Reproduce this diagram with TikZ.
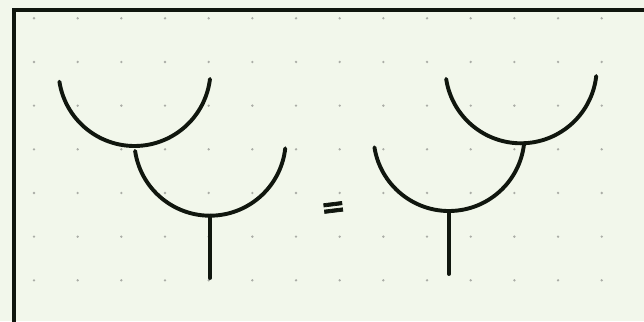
\documentclass[tikz,border=0pt]{standalone}
\usepackage{fontspec}
\newfontfamily\handfont[FakeBold=2.5]{DejaVu Sans}
\usetikzlibrary{calc}
\definecolor{paperbg}{RGB}{242, 247, 235}
\definecolor{gridgray}{RGB}{170, 173, 166}
\definecolor{inkdark}{RGB}{16, 22, 14}
\tikzset{
  cup/.style={
    draw=inkdark,
    line width=3.9pt,
    line cap=round
  },
  frame line/.style={
    draw=inkdark,
    line width=3.6pt
  },
  grid dot/.style={
    fill=gridgray
  },
  equals sign/.style={
    font=\handfont\bfseries\fontsize{29}{29}\selectfont,
    text=inkdark,
    inner sep=0pt,
    rotate=7
  }
}

\begin{document}
\begin{tikzpicture}[x=1pt, y=-1pt]
  \useasboundingbox (0,0) rectangle (644,321);
  \fill[paperbg] (0,0) rectangle (644,321);
  \clip (0,0) rectangle (644,321);

  \foreach \i in {0,...,14}
    \foreach \j in {0,...,6}
      \fill[grid dot] (34+43.67*\i, 18.3+43.67*\j) circle (1.3);

  \coordinate (frameTR) at (660,10.3);
  \coordinate (frameTL) at (14,10.3);
  \coordinate (frameBL) at (14,340);
  \draw[frame line] (frameTR) -- (frameTL) -- (frameBL);

  % left hand side
  \coordinate (cupA) at (134.5,70);
  \coordinate (cupB) at (210,140);
  \coordinate (leftA) at ($(cupA)+(171.2:76)$);
  \coordinate (leftB) at ($(cupB)+(171.7:75.7)$);
  \coordinate (baseB) at ($(cupB)+(90:75.7)$);
  \coordinate (rootB) at (210,278);
  \draw[cup] (leftA) arc[start angle=171.2, end angle=6.8, radius=76];
  \draw[cup] (leftB) arc[start angle=171.7, end angle=6.3, radius=75.7];
  \draw[cup] (baseB) -- (rootB);

  \node[equals sign] (eq) at (333.5,209.5) {=};

  % right hand side
  \coordinate (cupC) at (521,67.6);
  \coordinate (cupD) at (449,135.5);
  \coordinate (leftC) at ($(cupC)+(171.4:75.7)$);
  \coordinate (leftD) at ($(cupD)+(171:75.5)$);
  \coordinate (baseD) at ($(cupD)+(90:75.5)$);
  \coordinate (rootD) at (449,274);
  \draw[cup] (leftC) arc[start angle=171.4, end angle=6.4, radius=75.7];
  \draw[cup] (leftD) arc[start angle=171, end angle=5.7, radius=75.5];
  \draw[cup] (baseD) -- (rootD);
\end{tikzpicture}
\end{document}
